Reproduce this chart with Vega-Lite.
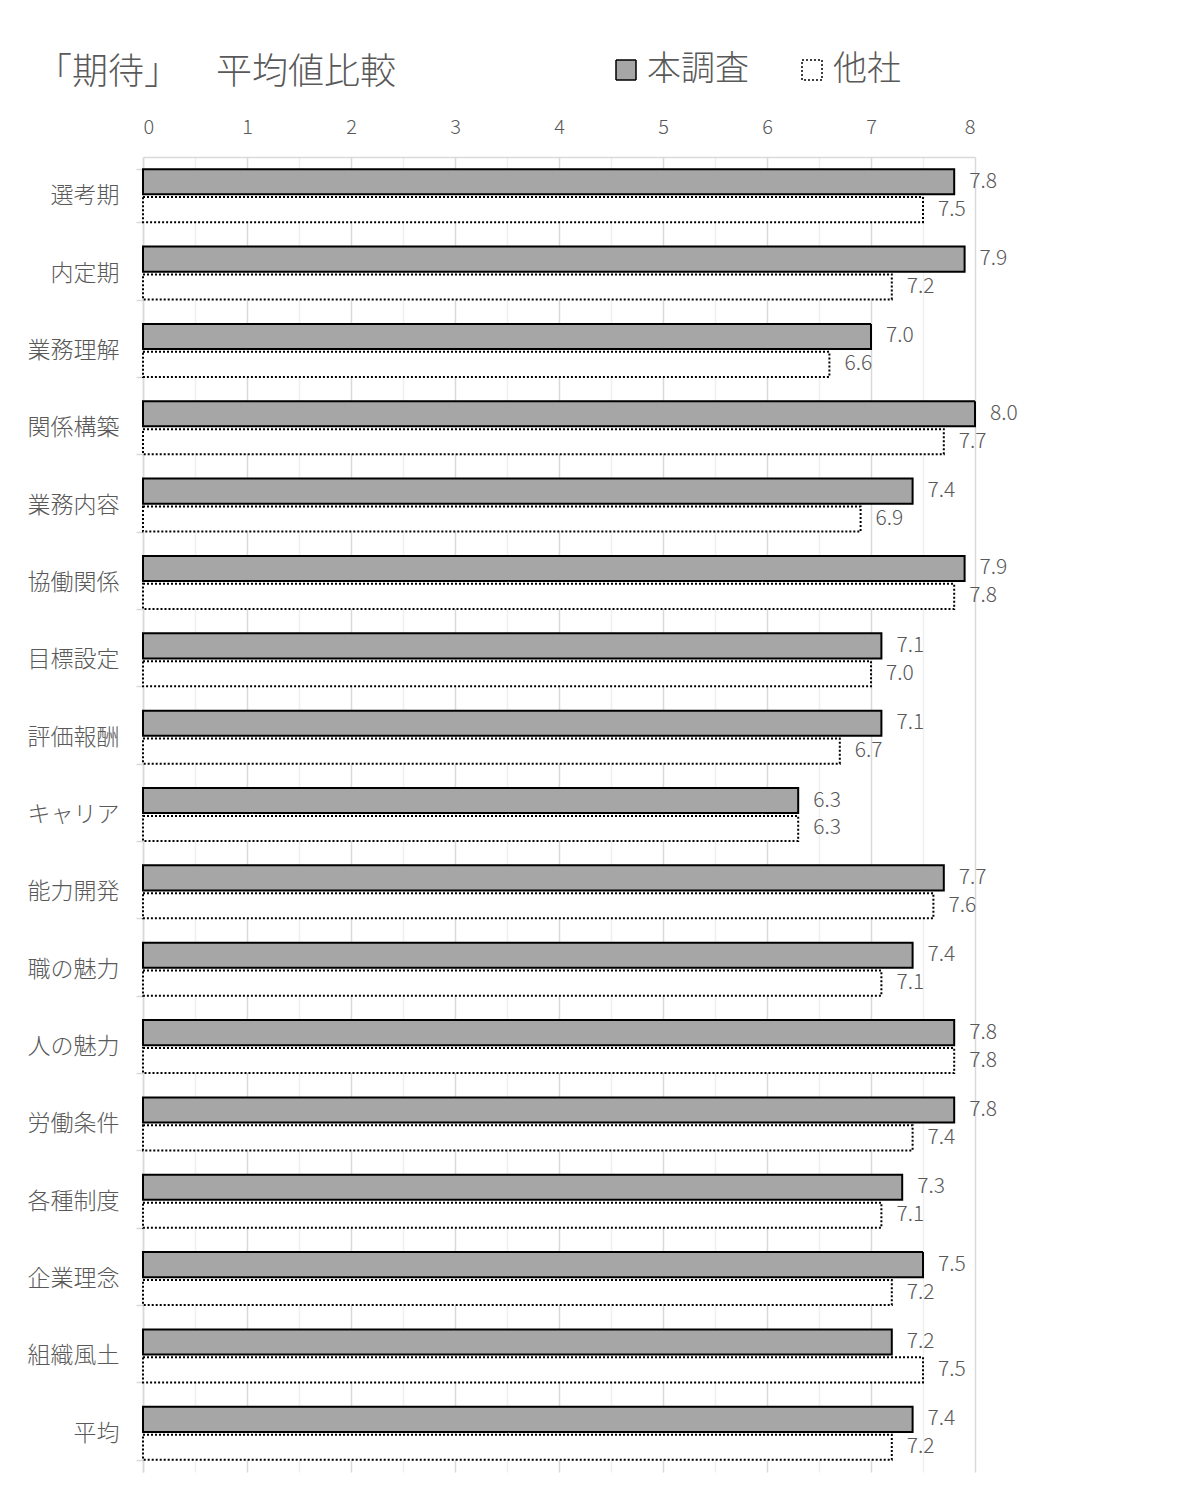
{
  "$schema": "https://vega.github.io/schema/vega-lite/v6.json",
  "width": 832,
  "height": 1315,
  "autosize": {"type": "none"},
  "padding": {"left": 143, "top": 157, "right": 207, "bottom": 22},
  "background": "white",
  "config": {
    "font": "Noto Sans CJK JP",
    "view": {"stroke": null},
    "axis": {"labelColor": "#595959", "titleColor": "#595959"}
  },
  "title": {
    "text": "「期待」　\u2002平均値比較",
    "anchor": "start",
    "frame": "group",
    "dx": -107,
    "offset": -39,
    "fontSize": 36,
    "fontWeight": 300,
    "color": "#595959"
  },
  "data": {
    "values": [
      {"category": "選考期", "series": "本調査", "value": 7.8},
      {"category": "選考期", "series": "他社", "value": 7.5},
      {"category": "内定期", "series": "本調査", "value": 7.9},
      {"category": "内定期", "series": "他社", "value": 7.2},
      {"category": "業務理解", "series": "本調査", "value": 7.0},
      {"category": "業務理解", "series": "他社", "value": 6.6},
      {"category": "関係構築", "series": "本調査", "value": 8.0},
      {"category": "関係構築", "series": "他社", "value": 7.7},
      {"category": "業務内容", "series": "本調査", "value": 7.4},
      {"category": "業務内容", "series": "他社", "value": 6.9},
      {"category": "協働関係", "series": "本調査", "value": 7.9},
      {"category": "協働関係", "series": "他社", "value": 7.8},
      {"category": "目標設定", "series": "本調査", "value": 7.1},
      {"category": "目標設定", "series": "他社", "value": 7.0},
      {"category": "評価報酬", "series": "本調査", "value": 7.1},
      {"category": "評価報酬", "series": "他社", "value": 6.7},
      {"category": "キャリア", "series": "本調査", "value": 6.3},
      {"category": "キャリア", "series": "他社", "value": 6.3},
      {"category": "能力開発", "series": "本調査", "value": 7.7},
      {"category": "能力開発", "series": "他社", "value": 7.6},
      {"category": "職の魅力", "series": "本調査", "value": 7.4},
      {"category": "職の魅力", "series": "他社", "value": 7.1},
      {"category": "人の魅力", "series": "本調査", "value": 7.8},
      {"category": "人の魅力", "series": "他社", "value": 7.8},
      {"category": "労働条件", "series": "本調査", "value": 7.8},
      {"category": "労働条件", "series": "他社", "value": 7.4},
      {"category": "各種制度", "series": "本調査", "value": 7.3},
      {"category": "各種制度", "series": "他社", "value": 7.1},
      {"category": "企業理念", "series": "本調査", "value": 7.5},
      {"category": "企業理念", "series": "他社", "value": 7.2},
      {"category": "組織風土", "series": "本調査", "value": 7.2},
      {"category": "組織風土", "series": "他社", "value": 7.5},
      {"category": "平均", "series": "本調査", "value": 7.4},
      {"category": "平均", "series": "他社", "value": 7.2}
    ]
  },
  "resolve": {"axis": {"x": "independent"}},
  "layer": [
    {
      "mark": {"type": "bar", "stroke": "black", "strokeWidth": 2},
      "encoding": {
        "x": {
          "field": "value",
          "type": "quantitative",
          "scale": {"domain": [0, 8], "nice": false, "zero": true},
          "axis": {
            "orient": "top",
            "title": null,
            "values": [0, 1, 2, 3, 4, 5, 6, 7, 8],
            "format": "d",
            "labelFontSize": 20,
            "labelFontWeight": 300,
            "labelPadding": 20,
            "ticks": false,
            "domain": true,
            "domainColor": "#d9d9d9",
            "domainWidth": 1.5,
            "grid": true,
            "gridColor": "#d9d9d9",
            "gridWidth": 1.5
          }
        },
        "y": {
          "field": "category",
          "type": "nominal",
          "sort": null,
          "scale": {"paddingInner": 0.315, "paddingOuter": 0.1575},
          "axis": {
            "title": null,
            "labelFontSize": 23,
            "labelFontWeight": 300,
            "labelPadding": 17,
            "tickBand": "extent",
            "ticks": true,
            "tickSize": 7,
            "tickColor": "#d9d9d9",
            "tickWidth": 1.5,
            "domain": true,
            "domainColor": "#d9d9d9",
            "domainWidth": 1.5,
            "grid": false
          }
        },
        "yOffset": {
          "field": "series",
          "type": "nominal",
          "sort": ["本調査", "他社"],
          "scale": {"paddingInner": 0.1}
        },
        "fill": {
          "field": "series",
          "type": "nominal",
          "sort": ["本調査", "他社"],
          "scale": {"domain": ["本調査", "他社"], "range": ["#a6a6a6", "#ffffff"]},
          "legend": {
            "orient": "none",
            "legendX": 466,
            "legendY": -104,
            "direction": "horizontal",
            "title": null,
            "symbolType": "square",
            "symbolSize": 400,
            "labelFontSize": 34,
            "labelFontWeight": 300,
            "labelColor": "#595959",
            "labelOffset": 4,
            "columnPadding": 46,
            "encode": {
              "symbols": {
                "update": {
                  "stroke": {"value": "black"},
                  "strokeWidth": {"value": 2}
                }
              }
            }
          }
        },
        "strokeDash": {
          "field": "series",
          "type": "nominal",
          "sort": ["本調査", "他社"],
          "scale": {"domain": ["本調査", "他社"], "range": [[1, 0], [2, 2]]},
          "legend": {
            "orient": "none",
            "legendX": 466,
            "legendY": -104,
            "direction": "horizontal",
            "title": null,
            "symbolType": "square",
            "symbolSize": 400,
            "labelFontSize": 34,
            "labelFontWeight": 300,
            "labelColor": "#595959",
            "labelOffset": 4,
            "columnPadding": 46,
            "encode": {
              "symbols": {
                "update": {
                  "stroke": {"value": "black"},
                  "strokeWidth": {"value": 2}
                }
              }
            }
          }
        }
      }
    },
    {
      "mark": {"type": "text", "align": "left", "baseline": "middle", "dx": 15, "fontSize": 21, "fontWeight": 300, "color": "#595959"},
      "encoding": {
        "x": {
          "field": "value",
          "type": "quantitative",
          "axis": {
            "orient": "bottom",
            "title": null,
            "values": [0.5, 1.5, 2.5, 3.5, 4.5, 5.5, 6.5, 7.5],
            "labels": false,
            "ticks": false,
            "domain": false,
            "grid": true,
            "gridColor": "#efefef",
            "gridWidth": 1.5
          }
        },
        "y": {"field": "category", "type": "nominal", "sort": null},
        "yOffset": {"field": "series", "type": "nominal", "sort": ["本調査", "他社"]},
        "text": {"field": "value", "type": "quantitative", "format": ".1f"}
      }
    }
  ]
}
